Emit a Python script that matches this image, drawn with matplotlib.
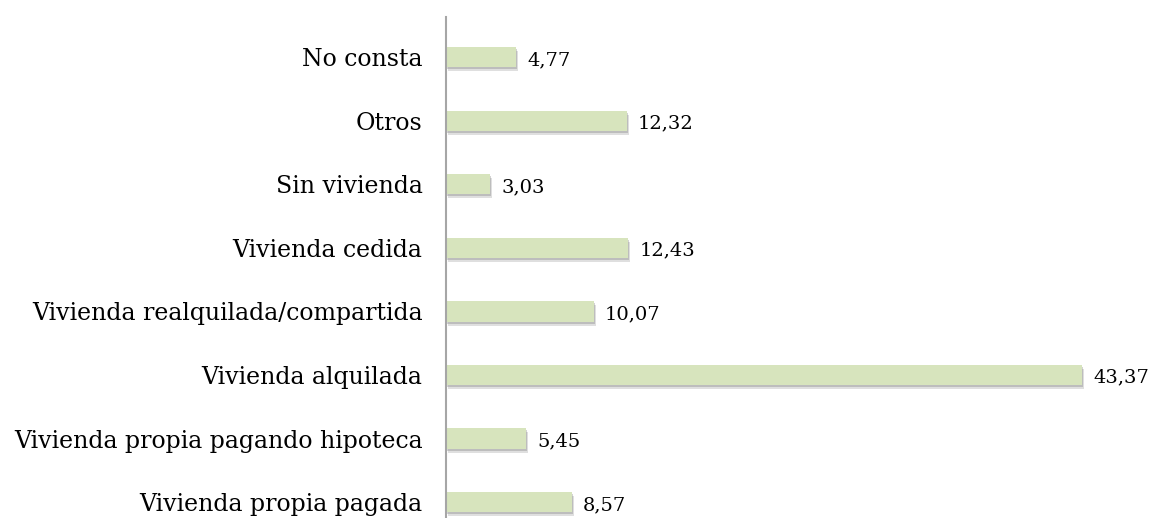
import matplotlib.pyplot as plt
import matplotlib.transforms as mtransforms
import numpy as np

categorias = ['Vivienda propia pagada', 'Vivienda propia pagando hipoteca',
              'Vivienda alquilada', 'Vivienda realquilada/compartida',
              'Vivienda cedida', 'Sin vivienda', 'Otros', 'No consta']
valores = [8.57, 5.45, 43.37, 10.07, 12.43, 3.03, 12.32, 4.77]

fig = plt.figure(figsize=(11.54, 5.18), dpi=100)
ax = fig.add_axes([0.3865, 0.0, 0.61, 0.967])

y = np.arange(len(categorias))
alto = 0.32

# sombra debajo de las barras (dos capas para suavizar)
for dx, dy, a in [(2, -4, 0.22), (1, -2, 0.3)]:
    sombra = ax.transData + mtransforms.ScaledTranslation(dx / 100, dy / 100, fig.dpi_scale_trans)
    ax.barh(y, valores, alto, color='#6f6f6f', alpha=a, transform=sombra, zorder=1)
ax.barh(y, valores, alto, color='#d7e4bd', zorder=2)

for yi, v in zip(y, valores):
    ax.annotate(f'{v:.2f}'.replace('.', ','), (v, yi), xytext=(8, -2),
                textcoords='offset points', va='center', ha='left',
                fontsize=14, family='DejaVu Serif')

ax.set_yticks(y, categorias, fontsize=17, family='DejaVu Serif')
ax.tick_params(axis='y', length=0, pad=17)
ax.set_xticks([])
ax.set_xlim(0, 48)
ax.set_ylim(-0.25, 7.63)

for s in ['top', 'right', 'bottom']:
    ax.spines[s].set_visible(False)
ax.spines['left'].set_color('#a6a6a6')
ax.spines['left'].set_linewidth(1.5)

plt.savefig('out.png')
